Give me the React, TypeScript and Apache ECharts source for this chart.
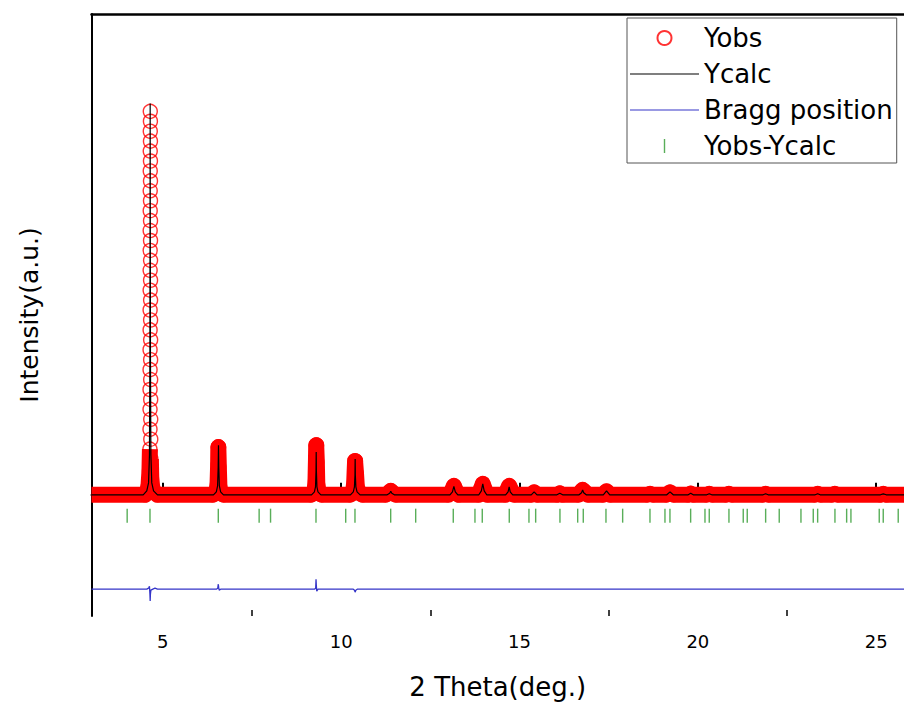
import React, { useEffect, useRef } from "react";
import * as echarts from "echarts";

// 2θ (deg.), intensity (a.u., arbitrary units, background = 0)
const yobs: [number, number][] = [
  [3.0, 0], [4.5, 0], [4.56, 3], [4.6, 10], [4.625, 24],
  [4.638, 46], [4.64, 66], [4.641, 86], [4.641, 106], [4.642, 126], [4.642, 146], [4.643, 166], [4.643, 186],
  [4.644, 206], [4.644, 226], [4.645, 246], [4.645, 266], [4.646, 286], [4.646, 306], [4.647, 326], [4.647, 346],
  [4.648, 366], [4.648, 386],
  [4.652, 376], [4.653, 356], [4.653, 336], [4.654, 316], [4.654, 296], [4.655, 276], [4.655, 256], [4.656, 236],
  [4.656, 216], [4.657, 196], [4.657, 176], [4.658, 156], [4.658, 136], [4.659, 116], [4.66, 96], [4.661, 76],
  [4.662, 56], [4.665, 36],
  [4.675, 18], [4.7, 8], [4.75, 3], [4.85, 0],
  [6.4, 0], [6.5, 2], [6.535, 12], [6.55, 30], [6.556, 48], [6.563, 48], [6.57, 28], [6.585, 10], [6.62, 2], [6.7, 0],
  [9.15, 0], [9.25, 2], [9.28, 14], [9.293, 35], [9.3, 50], [9.31, 50], [9.318, 33], [9.33, 12], [9.37, 2], [9.45, 0],
  [10.25, 0], [10.33, 2], [10.365, 12], [10.38, 26], [10.39, 34], [10.4, 34], [10.415, 22], [10.44, 8], [10.5, 2], [10.6, 0],
  [11.25, 0], [11.33, 2], [11.39, 4], [11.45, 2], [11.53, 0],
  [13.0, 0], [13.1, 4], [13.16, 9], [13.22, 4], [13.3, 0],
  [13.85, 0], [13.92, 6], [13.97, 11], [14.02, 6], [14.1, 0],
  [14.6, 0], [14.66, 5], [14.71, 9], [14.76, 5], [14.85, 0],
  [15.33, 0], [15.41, 2.5], [15.49, 0],
  [16.05, 0], [16.13, 1.5], [16.21, 0],
  [16.65, 0], [16.72, 3], [16.77, 5], [16.83, 3], [16.92, 0],
  [17.34, 0], [17.44, 3.5], [17.54, 0],
  [18.58, 0], [18.66, 1], [18.74, 0],
  [19.12, 0], [19.22, 2.5], [19.32, 0],
  [19.72, 0], [19.8, 1.2], [19.88, 0],
  [20.24, 0], [20.32, 1], [20.4, 0],
  [20.79, 0], [20.87, 1], [20.95, 0],
  [21.82, 0], [21.9, 1], [21.98, 0],
  [23.28, 0], [23.36, 1], [23.44, 0],
  [23.76, 0], [23.84, 1], [23.92, 0],
  [25.11, 0], [25.2, 1], [25.29, 0],
  [26.0, 0],
];

const ycalc: [number, number][] = [
  [3.0, 0], [4.45, 0], [4.55, 4], [4.6, 12], [4.625, 40], [4.637, 140], [4.645, 394], [4.653, 140], [4.665, 40], [4.69, 12], [4.74, 4], [4.85, 0],
  [6.42, 0], [6.5, 3], [6.535, 9], [6.552, 28], [6.56, 50], [6.568, 28], [6.585, 9], [6.62, 3], [6.7, 0],
  [9.17, 0], [9.25, 3], [9.28, 8], [9.295, 24], [9.3, 43], [9.305, 24], [9.32, 8], [9.35, 3], [9.43, 0],
  [10.26, 0], [10.34, 3], [10.372, 8], [10.387, 20], [10.392, 36], [10.397, 20], [10.412, 8], [10.445, 3], [10.53, 0],
  [11.29, 0], [11.36, 1.5], [11.39, 3.5], [11.42, 1.5], [11.49, 0],
  [13.05, 0], [13.12, 3], [13.16, 8.5], [13.2, 3], [13.27, 0],
  [13.86, 0], [13.93, 4], [13.97, 11], [14.01, 4], [14.08, 0],
  [14.61, 0], [14.68, 3], [14.71, 8], [14.74, 3], [14.81, 0],
  [15.33, 0], [15.41, 3], [15.49, 0],
  [16.05, 0], [16.13, 1.5], [16.21, 0],
  [16.67, 0], [16.74, 2], [16.77, 5], [16.8, 2], [16.87, 0],
  [17.35, 0], [17.44, 4], [17.53, 0],
  [19.13, 0], [19.22, 3], [19.31, 0],
  [19.73, 0], [19.8, 1.5], [19.87, 0],
  [20.25, 0], [20.32, 1], [20.39, 0],
  [21.83, 0], [21.9, 1], [21.97, 0],
  [23.29, 0], [23.36, 1], [23.43, 0],
  [25.12, 0], [25.2, 1], [25.28, 0],
  [26.0, 0],
];

// difference curve (drawn offset below the pattern)
const diffCurve: [number, number][] = [
  [3.0, -95], [4.55, -95], [4.6, -94], [4.625, -92], [4.638, -100], [4.645, -107], [4.652, -100], [4.665, -96],
  [4.72, -95], [4.78, -94], [4.85, -95],
  [6.5, -95], [6.54, -94], [6.555, -90], [6.565, -93], [6.58, -96], [6.62, -95],
  [9.25, -95], [9.285, -94], [9.295, -85], [9.305, -92], [9.315, -97], [9.35, -95],
  [10.34, -95], [10.375, -96], [10.39, -98], [10.41, -96], [10.45, -95],
  [26.0, -95],
];

// reflection positions (2θ)
const braggPositions: number[] = [
  4.0, 4.64, 6.555, 7.7, 8.02, 9.294, 10.127, 10.387, 11.388, 12.089, 13.143, 13.751, 13.956,
  14.713, 15.265, 15.453, 16.134, 16.631, 16.788, 17.424, 17.892, 18.658, 19.078, 19.218,
  19.798, 20.2, 20.32, 20.872, 21.273, 21.385, 21.901, 22.282, 22.891, 23.236, 23.359,
  23.844, 24.172, 24.292, 25.086, 25.198, 25.618,
];
const BRAGG_LEVEL = -21;

const majorTicks = [5, 10, 15, 20, 25];
const minorTicks = [7.5, 12.5, 17.5, 22.5];
const X_MIN = 3;
const X_MAX = 25.78;
const Y_MIN = -122;
const Y_MAX = 484;
const BAND_LIMIT = 55;

const RED = "#ff0000";
const FONT = "DejaVu Sans";

export default function App() {
  const ref = useRef<HTMLDivElement>(null);

  useEffect(() => {
    document.body.style.margin = "0";
    if (!ref.current) return;
    const chart = echarts.init(ref.current, undefined, { renderer: "svg" });
    const tickPath = "path://M0,0L1,0L1,10L0,10Z";
    const linePath = "path://M0,0L60,0L60,1L0,1Z";
    chart.setOption({
      animation: false,
      backgroundColor: "#fff",
      textStyle: { fontFamily: FONT },
      grid: {
        left: 91.5,
        right: 0,
        top: 14,
        bottom: 85,
        show: false,
        containLabel: false,
      },
      legend: {
        orient: "vertical",
        left: 627,
        top: 18,
        padding: [7, 4, 4, 3],
        itemGap: 10,
        itemWidth: 69,
        itemHeight: 14,
        borderColor: "#555",
        borderWidth: 1,
        selectedMode: false,
        textStyle: { fontSize: 26, fontFamily: FONT, color: "#000" },
        data: [
          { name: "Yobs" },
          { name: "Ycalc", icon: linePath },
          { name: "Bragg position", icon: linePath },
          { name: "Yobs-Ycalc" },
        ],
      },
      xAxis: [
        {
          type: "value",
          min: X_MIN,
          max: X_MAX,
          position: "bottom",
          axisLine: { show: true, lineStyle: { color: "#000", width: 2 } },
          axisTick: {
            show: true,
            inside: true,
            length: 12,
            lineStyle: { color: "#000", width: 2 },
            customValues: majorTicks,
          },
          axisLabel: {
            customValues: majorTicks,
            fontSize: 18,
            color: "#000",
            margin: 16,
            fontFamily: FONT,
          },
          splitLine: { show: false },
          name: "2 Theta(deg.)",
          nameLocation: "middle",
          nameGap: 58,
          nameTextStyle: { fontSize: 26, color: "#000", fontFamily: FONT },
        },
        {
          type: "value",
          min: X_MIN,
          max: X_MAX,
          position: "bottom",
          axisLine: { show: false },
          axisTick: {
            show: true,
            inside: true,
            length: 6,
            lineStyle: { color: "#000", width: 1.5 },
            customValues: minorTicks,
          },
          axisLabel: { show: false },
          splitLine: { show: false },
        },
        {
          type: "value",
          min: X_MIN,
          max: X_MAX,
          position: "top",
          axisLine: { show: true, lineStyle: { color: "#000", width: 2.5 } },
          axisTick: { show: false },
          axisLabel: { show: false },
          splitLine: { show: false },
        },
      ],
      yAxis: {
        type: "value",
        min: Y_MIN,
        max: Y_MAX,
        axisLine: { show: true, lineStyle: { color: "#000", width: 2 } },
        axisTick: { show: false },
        axisLabel: { show: false },
        splitLine: { show: false },
        name: "Intensity(a.u.)",
        nameLocation: "middle",
        nameRotate: 90,
        nameGap: 50,
        nameTextStyle: { fontSize: 25, color: "#000", fontFamily: FONT },
      },
      series: [
        {
          name: "Yobs band",
          type: "line",
          xAxisIndex: 0,
          data: yobs.map(([x, y]) => [x, y <= BAND_LIMIT ? y : null]),
          connectNulls: false,
          symbol: "none",
          silent: true,
          z: 1,
          lineStyle: { color: RED, width: 16, cap: "butt", join: "round" },
        },
        {
          name: "Yobs",
          type: "scatter",
          xAxisIndex: 0,
          data: yobs.filter(([x]) => x > X_MIN + 0.2 && x < X_MAX - 0.2),
          symbol: "circle",
          symbolSize: 14,
          silent: true,
          z: 2,
          itemStyle: { color: "rgba(255,255,255,0)", borderColor: RED, borderWidth: 1.4 },
        },
        {
          name: "Ycalc",
          type: "line",
          xAxisIndex: 0,
          data: ycalc,
          symbol: "none",
          silent: true,
          z: 3,
          itemStyle: { color: "#000" },
          lineStyle: { color: "#000", width: 1.2 },
        },
        {
          name: "Bragg position",
          type: "line",
          xAxisIndex: 0,
          data: diffCurve,
          symbol: "none",
          silent: true,
          z: 3,
          itemStyle: { color: "#3535c8" },
          lineStyle: { color: "#3535c8", width: 1.3 },
        },
        {
          name: "Yobs-Ycalc",
          type: "scatter",
          xAxisIndex: 0,
          data: braggPositions.map((x) => [x, BRAGG_LEVEL]),
          symbol: tickPath,
          symbolSize: [1.4, 14],
          silent: true,
          z: 3,
          itemStyle: { color: "#2f9a2f" },
        },
      ],
    });
    return () => chart.dispose();
  }, []);

  return (
    <div
      ref={ref}
      style={{ position: "fixed", left: 0, top: 0, width: 904, height: 705 }}
    />
  );
}
